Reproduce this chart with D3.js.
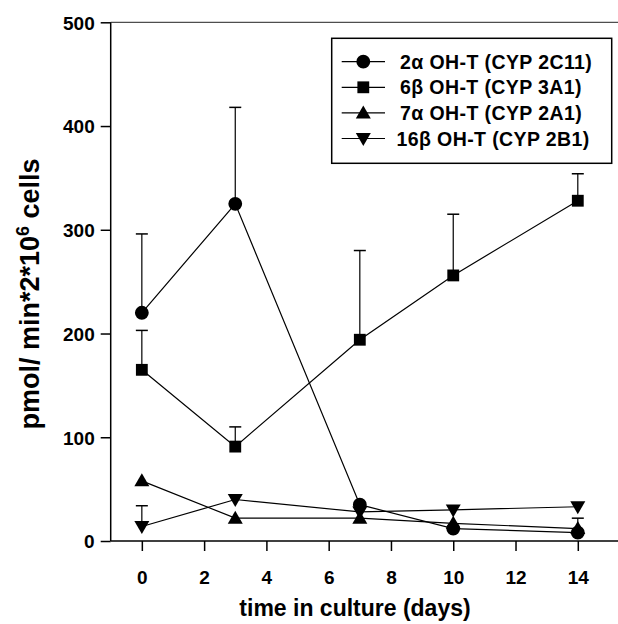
<!DOCTYPE html>
<html><head><meta charset="utf-8">
<script src="https://cdn.jsdelivr.net/npm/d3@7"></script>
<style>
html,body{margin:0;padding:0;background:#fff;overflow:hidden}
text{font-family:"Liberation Sans",Arial,sans-serif;font-weight:bold;fill:#000}
</style></head>
<body>
<svg id="chart" width="618" height="624"></svg>
<script>
// ---- data ----
const days = [0, 3, 7, 10, 14];
const oh2a = [220, 325, 35, 12, 8];
const err2a = [76, 93, 0, 0, 0];
const oh6b = [165, 91, 194, 256, 328];
const err6b = [38, 19, 86, 59, 26];
const oh7a = [58, 22, 22, 17, 12];
const err7a = [0, 0, 0, 0, 10];
const oh16b = [14, 40, 28, 30, 33];
const err16b = [20, 0, 0, 0, 0];
const seriesNames = ["2\u03b1 OH-T (CYP 2C11)", "6\u03b2 OH-T (CYP 3A1)", "7\u03b1 OH-T (CYP 2A1)", "16\u03b2 OH-T (CYP 2B1)"];
const xTicks = [0, 2, 4, 6, 8, 10, 12, 14];
const yTicks = [0, 100, 200, 300, 400, 500];

const series = [
  {name: seriesNames[0], vals: oh2a, errs: err2a, sym: d3.symbolCircle},
  {name: seriesNames[1], vals: oh6b, errs: err6b, sym: d3.symbolSquare},
  {name: seriesNames[2], vals: oh7a, errs: err7a, sym: "up"},
  {name: seriesNames[3], vals: oh16b, errs: err16b, sym: "down"}
];

const svg = d3.select("#chart");
const x = d3.scaleLinear().domain([-1, 16]).range([110.7, 110.7 + 17 * 31.14]);
const y = d3.scaleLinear().domain([0, 500]).range([541, 22.3]);

// frame
const g = svg.append("g");
g.append("line").attr("x1", x(-1)).attr("x2", x(-1)).attr("y1", y(0)).attr("y2", y(500)).attr("stroke", "#000").attr("stroke-width", 1.5);
g.append("line").attr("x1", x(-1)).attr("x2", 618).attr("y1", y(500)).attr("y2", y(500)).attr("stroke", "#222").attr("stroke-width", 1);
g.append("line").attr("x1", x(-1)).attr("x2", 618).attr("y1", y(0)).attr("y2", y(0)).attr("stroke", "#000").attr("stroke-width", 1.5);

// axes
const yAxis = d3.axisLeft(y).tickValues(yTicks).tickSize(10).tickPadding(6).tickFormat(d3.format("d"));
const ya = svg.append("g").attr("transform", `translate(${x(-1)},0)`).call(yAxis);
ya.select(".domain").remove();
ya.selectAll(".tick line").attr("stroke", "#000").attr("stroke-width", 1.5);
ya.selectAll(".tick text").style("font-size", "19px").attr("dy", "0.36em");

const xAxis = d3.axisBottom(x).tickValues(xTicks).tickSize(10).tickPadding(20);
const xa = svg.append("g").attr("transform", `translate(0,${y(0)})`).call(xAxis);
xa.select(".domain").remove();
xa.selectAll(".tick line").attr("stroke", "#000").attr("stroke-width", 1.5);
xa.selectAll(".tick text").style("font-size", "19px");

// titles
svg.append("text").attr("x", 355).attr("y", 616).attr("text-anchor", "middle").style("font-size", "23px").text("time in culture (days)");
const yt = svg.append("text").attr("transform", "translate(39,294) rotate(-90)").attr("text-anchor", "middle").style("font-size", "27px");
yt.append("tspan").text("pmol/ min*2*10");
yt.append("tspan").attr("dy", "-10").style("font-size", "18px").text("6");
yt.append("tspan").attr("dy", "10").text(" cells");

function symPath(sym) {
  if (sym === "up") return "M0,-7.5L7.5,5.5L-7.5,5.5Z";
  if (sym === "down") return "M0,7.5L7.5,-5.5L-7.5,-5.5Z";
  if (sym === d3.symbolCircle) return d3.symbol(sym, 150)();
  return d3.symbol(sym, 140)();
}

const line = d3.line().x((d, i) => x(days[i])).y(d => y(d));
series.forEach(s => {
  svg.append("path").attr("d", line(s.vals)).attr("fill", "none").attr("stroke", "#000").attr("stroke-width", 1.2);
});
series.forEach(s => {
  s.vals.forEach((v, i) => {
    const e = s.errs[i];
    if (e > 0) {
      const cx = x(days[i]);
      svg.append("line").attr("x1", cx).attr("x2", cx).attr("y1", y(v)).attr("y2", y(v + e)).attr("stroke", "#000").attr("stroke-width", 1.2);
      svg.append("line").attr("x1", cx - 6).attr("x2", cx + 6).attr("y1", y(v + e)).attr("y2", y(v + e)).attr("stroke", "#000").attr("stroke-width", 1.5);
    }
  });
});
series.forEach(s => {
  svg.append("g").selectAll("path").data(s.vals).join("path")
    .attr("transform", (d, i) => `translate(${x(days[i])},${y(d)})`)
    .attr("d", symPath(s.sym)).attr("fill", "#000");
});

// legend
const lg = svg.append("g");
lg.append("rect").attr("x", 331.7).attr("y", 38.3).attr("width", 280).attr("height", 125)
  .attr("fill", "#fff").attr("stroke", "#000").attr("stroke-width", 1.5);
series.forEach((s, i) => {
  const yy = 61.7 + i * 25.6;
  lg.append("line").attr("x1", 341.7).attr("x2", 385).attr("y1", yy).attr("y2", yy).attr("stroke", "#000").attr("stroke-width", 1.2);
  lg.append("path").attr("transform", `translate(363.3,${yy})`).attr("d", symPath(s.sym)).attr("fill", "#000");
  lg.append("text").attr("x", i === 3 ? 396.5 : 400).attr("y", yy).attr("dy", "0.36em")
    .style("font-size", "19.5px").style("letter-spacing", "0.4px").text(s.name);
});
</script>
</body></html>
